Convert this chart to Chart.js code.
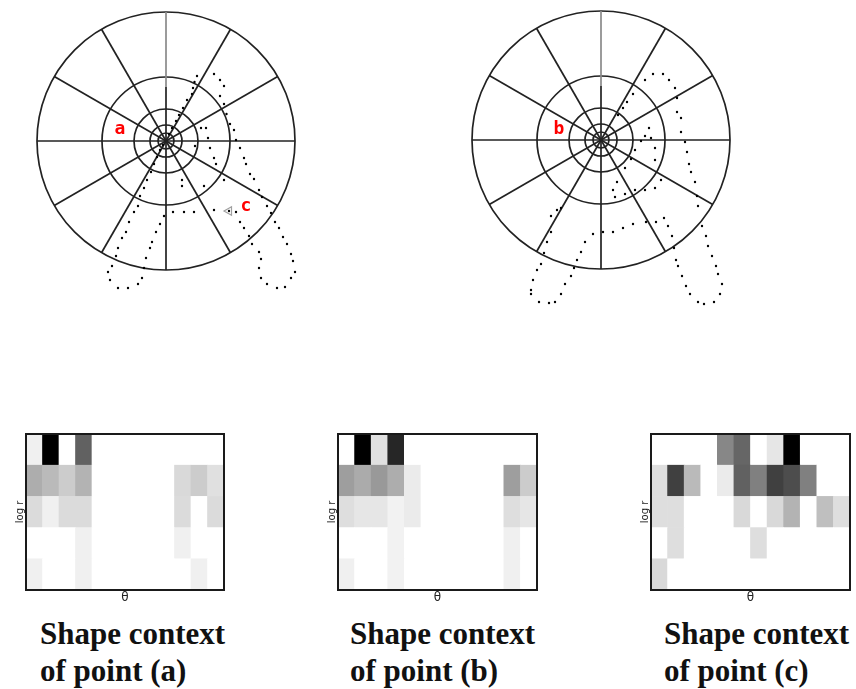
<!DOCTYPE html>
<html>
<head>
<meta charset="utf-8">
<script src="https://cdn.jsdelivr.net/npm/chart.js@4.4.1/dist/chart.umd.min.js"></script>
<style>
  html, body { margin: 0; padding: 0; background: #fff; }
  body { width: 856px; height: 689px; position: relative; overflow: hidden; }
  .pane { position: absolute; }
  .pane canvas { display: block; }
  .cap {
    position: absolute;
    font-family: 'Liberation Serif', 'Times New Roman', serif;
    font-weight: bold;
    font-size: 31px;
    line-height: 37px;
    color: #111;
    white-space: nowrap;
  }
</style>
</head>
<body>

<div class="pane" style="left:16px; top:0px; width:300px; height:300px;"><canvas id="polarA"></canvas></div>
<div class="pane" style="left:451px; top:0px; width:300px; height:310px;"><canvas id="polarB"></canvas></div>

<div class="pane" style="left:10px; top:428px; width:222px; height:185px;"><canvas id="histA"></canvas></div>
<div class="pane" style="left:322px; top:428px; width:223px; height:185px;"><canvas id="histB"></canvas></div>
<div class="pane" style="left:635px; top:428px; width:223px; height:185px;"><canvas id="histC"></canvas></div>

<div class="cap" style="left:40px; top:615px;">Shape context<br>of point (a)</div>
<div class="cap" style="left:350px; top:615px;">Shape context<br>of point (b)</div>
<div class="cap" style="left:664px; top:615px;">Shape context<br>of point (c)</div>

<script>
// ---- log-polar bins (radii share the units of the contour samples) ----
const ringRadii = [8, 16, 32, 64, 129];
const spokeCount = 12;

// ---- sampled contour points, relative to the reference point (a) ----
const contourA = [
  [31,65],[28.5,59],[27,53],[26,47],[21,41],[17,33],[13,26],[10,20],[6,13],[3,7],
  [48,67],[54,61],[58,55],[54,45],[58,37],[60.5,27],[64,17],[68,11],[70,1],[74,-7],
  [78,-17],[80,-23],[84,-33],[88,-38],[93,-49],[96,-56],[101,-65],[105,-72],[109,-81],
  [113,-87],[117,-96],[121,-103],[125,-113],[127,-120],[129,-131],[125,-137],[119,-146],
  [111,-147],[101,-143],[95,-137],[93,-127],[95,-118],[93,-111],[86,-103],[83,-95],
  [78,-87],[74,-81],[70,-71],[63,-70],[48,-69],[28,-71],[18,-71],[7,-71],[-2,-75],
  [-6,-83],[-10,-91],[-14,-101],[-16,-107],[-20,-117],[-22,-127],[-24,-137],[-28,-143],
  [-38,-147],[-48,-147],[-56,-139],[-58,-131],[-54,-125],[-50,-115],[-48,-107],[-44,-97],
  [-40,-91],[-37,-81],[-32,-71],[-28,-65],[-26,-55],[-22,-47],[-19,-39],[-15,-31],
  [-12,-23],[-9,-16],[-6,-9],[-3,-4],
  [35,13],[40,13],[42,3],[29,-5],[44,-7],[48,-17],[50,-23],[58,-39],[16,-39],[16,-45],[38,-45]
];

// ---- the same contour, relative to the reference point (b) ----
const contourB = [
  [44,60],[52,66],[62,66],[68,60],[74,52],[76,42],[76,28],[80,22],[80,8],[84,-2],
  [86,-12],[88,-24],[90,-32],[94,-42],[96,-56],[97,-66],[101,-86],[105,-96],[107,-106],
  [111,-116],[115,-126],[117,-134],[121,-144],[119,-154],[113,-162],[103,-164],[97,-162],
  [89,-154],[85,-146],[81,-136],[77,-126],[75,-120],[73,-108],[71,-96],[67,-86],[63,-78],
  [55,-82],[45,-82],[32,-84],[22,-88],[12,-92],[2,-92],[-8,-94],[-16,-102],[-20,-112],
  [-24,-120],[-27,-128],[-30,-136],[-36,-144],[-40,-154],[-46,-162],[-52,-163],[-62,-162],
  [-70,-154],[-70,-150],[-68,-140],[-64,-130],[-60,-124],[-57,-113],[-54,-102],[-50,-92],
  [-50,-76],[-44,-70],[-40,-68],
  [32,46],[26,38],[22,32],[17,25],
  [48,12],[44,4],[50,2],[40,-1],[54,-8],[34,-10],[54,-20],[30,-19],[24,-28],[60,-40],
  [16,-42],[12,-50],[14,-57],[24,-54],[34,-50],[44,-50],[54,-48]
];

// ---- marked sample point (c) in the frame of (a) ----
const markerC = [[63,-70]];

// ---- point tags ----
const tagTextA = ['a', 'c'], tagXA = [-46, 80], tagYA = [12, -65];
const tagTextB = ['b'],      tagXB = [-42],     tagYB = [11];

// ---- shape context histograms: 5 log r bins (rows) x 12 theta bins ----
const thetaBins = ['0°','30°','60°','90°','120°','150°','180°','210°','240°','270°','300°','330°'];
const histA = [
  [0.06, 1.00, 0.00, 0.62, 0, 0, 0, 0, 0, 0.00, 0.00, 0.00],
  [0.32, 0.27, 0.20, 0.30, 0, 0, 0, 0, 0, 0.15, 0.20, 0.12],
  [0.14, 0.06, 0.14, 0.14, 0, 0, 0, 0, 0, 0.14, 0.00, 0.14],
  [0.00, 0.00, 0.00, 0.06, 0, 0, 0, 0, 0, 0.06, 0.00, 0.00],
  [0.06, 0.00, 0.00, 0.06, 0, 0, 0, 0, 0, 0.00, 0.06, 0.00]
];
const histB = [
  [0.00, 1.00, 0.12, 0.85, 0.00, 0, 0, 0, 0, 0, 0.00, 0.00],
  [0.38, 0.33, 0.40, 0.32, 0.08, 0, 0, 0, 0, 0, 0.38, 0.20],
  [0.13, 0.10, 0.10, 0.05, 0.08, 0, 0, 0, 0, 0, 0.13, 0.10],
  [0.00, 0.00, 0.00, 0.05, 0.00, 0, 0, 0, 0, 0, 0.06, 0.00],
  [0.06, 0.00, 0.00, 0.05, 0.00, 0, 0, 0, 0, 0, 0.06, 0.00]
];
const histC = [
  [0.00, 0.00, 0.00, 0, 0.47, 0.60, 0.00, 0.10, 1.00, 0.00, 0.00, 0.00],
  [0.13, 0.75, 0.27, 0, 0.08, 0.62, 0.50, 0.75, 0.70, 0.50, 0.00, 0.00],
  [0.13, 0.13, 0.00, 0, 0.00, 0.15, 0.00, 0.15, 0.30, 0.00, 0.25, 0.13],
  [0.00, 0.13, 0.00, 0, 0.00, 0.00, 0.13, 0.00, 0.00, 0.00, 0.00, 0.00],
  [0.15, 0.00, 0.00, 0, 0.00, 0.00, 0.00, 0.00, 0.00, 0.00, 0.00, 0.00]
];

Chart.defaults.devicePixelRatio = 1;
Chart.defaults.animation = false;

// Draws the log-polar rings and angular spokes around the data origin.
const logPolarGrid = {
  id: 'logPolarGrid',
  beforeDatasetsDraw(chart, args, opts) {
    const { ctx, scales: { x, y } } = chart;
    const cx = x.getPixelForValue(0), cy = y.getPixelForValue(0);
    const unit = Math.abs(x.getPixelForValue(1) - cx);
    const R = Math.max(...opts.rings) * unit;
    ctx.save();
    ctx.strokeStyle = opts.color;
    ctx.lineWidth = opts.width;
    opts.rings.forEach(r => {
      ctx.beginPath();
      ctx.arc(cx, cy, r * unit, 0, Math.PI * 2);
      ctx.stroke();
    });
    for (let k = 0; k < opts.spokes; k++) {
      const a = k * 2 * Math.PI / opts.spokes;
      const ex = Math.cos(a), ey = -Math.sin(a);
      if (k === opts.spokes / 4) {
        // upper vertical spoke is lighter beyond the faded radius
        const f = opts.fadeFrom * unit;
        ctx.beginPath(); ctx.moveTo(cx, cy); ctx.lineTo(cx + f * ex, cy + f * ey); ctx.stroke();
        ctx.save();
        ctx.strokeStyle = opts.fadeColor;
        ctx.beginPath(); ctx.moveTo(cx + f * ex, cy + f * ey); ctx.lineTo(cx + R * ex, cy + R * ey); ctx.stroke();
        ctx.restore();
      } else {
        ctx.beginPath(); ctx.moveTo(cx, cy); ctx.lineTo(cx + R * ex, cy + R * ey); ctx.stroke();
      }
    }
    ctx.restore();
  }
};

// Writes small red tags next to sample points.
const pointTags = {
  id: 'pointTags',
  afterDatasetsDraw(chart, args, opts) {
    const { ctx, scales: { x, y } } = chart;
    ctx.save();
    ctx.fillStyle = opts.color;
    ctx.font = opts.font;
    ctx.textAlign = 'center';
    ctx.textBaseline = 'middle';
    opts.text.forEach((t, i) => {
      ctx.fillText(t, x.getPixelForValue(opts.x[i]), y.getPixelForValue(opts.y[i]));
    });
    ctx.restore();
  }
};

function toXY(list) { return list.map(p => ({ x: p[0], y: p[1] })); }

function polarChart(id, contour, marker, tagText, tagX, tagY, xr, yr) {
  const datasets = [{
    data: toXY(contour),
    pointRadius: 1.2,
    pointBackgroundColor: '#000',
    pointBorderWidth: 0,
    showLine: false
  }];
  if (marker) {
    datasets.push({
      data: toXY(marker),
      pointStyle: 'triangle',
      rotation: -90,
      pointRadius: 5,
      pointBackgroundColor: 'rgba(0,0,0,0)',
      pointBorderColor: '#a0a0a0',
      pointBorderWidth: 1.2,
      showLine: false
    });
  }
  return new Chart(document.getElementById(id), {
    type: 'scatter',
    data: { datasets },
    options: {
      responsive: true,
      maintainAspectRatio: false,
      layout: { padding: 0, autoPadding: false },
      plugins: {
        legend: { display: false },
        tooltip: { enabled: false },
        logPolarGrid: { rings: ringRadii, spokes: spokeCount, color: '#222222', width: 1.7, fadeFrom: 54, fadeColor: '#8a8a8a' },
        pointTags: { text: tagText, x: tagX, y: tagY, color: '#ff0000', font: 'bold 18px "DejaVu Sans Mono"' }
      },
      scales: {
        x: { type: 'linear', display: false, min: xr[0], max: xr[1] },
        y: { type: 'linear', display: false, min: yr[0], max: yr[1] }
      },
      clip: false
    },
    plugins: [logPolarGrid, pointTags]
  });
}

polarChart('polarA', contourA, markerC, tagTextA, tagXA, tagYA, [-150, 150], [-159, 141]);
polarChart('polarB', contourB, null, tagTextB, tagXB, tagYB, [-150, 150], [-170, 140]);

// Frame around the histogram plot area.
const frameBox = {
  id: 'frameBox',
  afterDraw(chart, args, opts) {
    const { ctx, chartArea: a } = chart;
    ctx.save();
    ctx.strokeStyle = opts.color;
    ctx.lineWidth = opts.width;
    ctx.strokeRect(a.left, a.top, a.right - a.left, a.bottom - a.top);
    ctx.restore();
  }
};

function grey(v) {
  const c = Math.round(255 * (1 - v));
  return `rgb(${c},${c},${c})`;
}

function histChart(id, rows) {
  // rows run from the top bin down; stacked bars build upward
  const datasets = rows.slice().reverse().map(row => ({
    data: row.map(() => 1),
    backgroundColor: row.map(grey),
    borderWidth: 0,
    barPercentage: 1,
    categoryPercentage: 1
  }));
  return new Chart(document.getElementById(id), {
    type: 'bar',
    data: { labels: thetaBins, datasets },
    options: {
      responsive: true,
      maintainAspectRatio: false,
      layout: { padding: { left: 4, right: 8, top: 6, bottom: 7.6 } },
      plugins: {
        legend: { display: false },
        tooltip: { enabled: false },
        frameBox: { color: '#1a1a1a', width: 2 }
      },
      scales: {
        x: {
          stacked: true,
          grid: { display: false, drawTicks: false },
          border: { display: false },
          ticks: { display: false },
          title: { display: true, text: 'θ', color: '#222', font: { family: 'DejaVu Sans', size: 12 }, padding: { top: 1, bottom: 0 } }
        },
        y: {
          stacked: true,
          min: 0, max: rows.length,
          grid: { display: false, drawTicks: false },
          border: { display: false },
          ticks: { display: false },
          title: { display: true, text: 'log r', color: '#222', font: { family: 'DejaVu Sans', size: 10 }, padding: { top: 0, bottom: 0 } }
        }
      }
    },
    plugins: [frameBox]
  });
}

histChart('histA', histA);
histChart('histB', histB);
histChart('histC', histC);
</script>
</body>
</html>
